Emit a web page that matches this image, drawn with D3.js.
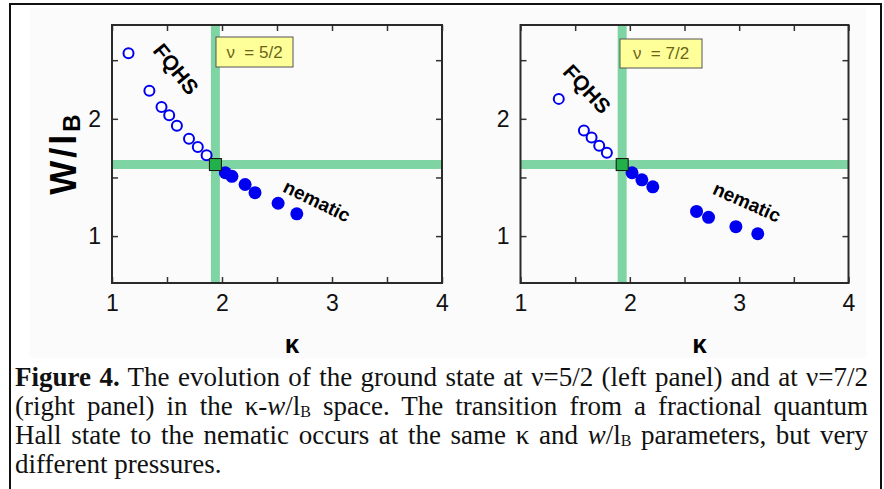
<!DOCTYPE html>
<html>
<head>
<meta charset="utf-8">
<script src="https://cdn.jsdelivr.net/npm/d3@7"></script>
<style>
  body { margin: 0; background: #fff; }
  svg { display: block; }
</style>
</head>
<body>
<div id="fig"></div>
<script>
// kappa and w/lB
const k52Open = [1.15, 1.34, 1.45, 1.52, 1.59, 1.70, 1.78, 1.86];
const w52Open = [2.56, 2.24, 2.10, 2.03, 1.94, 1.83, 1.76, 1.69];
const k52Fill = [2.03, 2.09, 2.21, 2.30, 2.51, 2.68];
const w52Fill = [1.54, 1.51, 1.44, 1.37, 1.28, 1.19];

const k72Open = [1.35, 1.58, 1.65, 1.72, 1.79];
const w72Open = [2.17, 1.90, 1.84, 1.77, 1.71];
const k72Fill = [2.02, 2.11, 2.21, 2.61, 2.72, 2.97, 3.17];
const w72Fill = [1.54, 1.48, 1.42, 1.21, 1.16, 1.08, 1.02];

// transition point (green cross + square)
const kCross = [1.94, 1.93];
const wCross = [1.61, 1.61];
const panelTags = ["ν  = 5/2", "ν  = 7/2"];

const xTicks = [1, 1.5, 2, 2.5, 3, 3.5, 4];
const xLabels = [1, 2, 3, 4];
const yTicks = [1, 1.5, 2, 2.5];
const yLabels = [1, 2];
const xDomain = [1, 4];
const yDomain = [0.6, 2.8];

const width = 884, height = 489;
const svg = d3.select("#fig").append("svg").attr("width", width).attr("height", height);

svg.append("rect").attr("x", 30).attr("y", 8).attr("width", 836).attr("height", 350).attr("fill", "#fbfbfb");
svg.append("rect").attr("x", 10).attr("y", 4).attr("width", 871).attr("height", 520)
  .attr("fill", "none").attr("stroke", "#111").attr("stroke-width", 2);

const panels = [
  { x0: 112, x1: 442, open: [k52Open, w52Open], fill: [k52Fill, w52Fill],
    fqhs: [176, 69, 51], nem: [317, 201, 26], tag: [216, 37, 77, 30] },
  { x0: 520.5, x1: 848.5, open: [k72Open, w72Open], fill: [k72Fill, w72Fill],
    fqhs: [587, 89, 47], nem: [747, 202, 24], tag: [620, 39, 82, 29] }
];
const plotTop = 25, plotBottom = 283;
const green = "#7fd4a3";

panels.forEach(function(p, i) {
  const x = d3.scaleLinear().domain(xDomain).range([p.x0, p.x1]);
  const y = d3.scaleLinear().domain(yDomain).range([plotBottom, plotTop]);
  const g = svg.append("g");

  // ticks (inward) and labels
  const fmtX = d => xLabels.includes(d) ? d : "";
  const fmtY = d => yLabels.includes(d) ? d : "";
  g.append("g").attr("transform", `translate(0,${plotBottom})`)
    .call(d3.axisBottom(x).tickValues(xTicks).tickSize(-6).tickPadding(12).tickFormat(fmtX));
  g.append("g").attr("transform", `translate(0,${plotTop})`)
    .call(d3.axisTop(x).tickValues(xTicks).tickSize(-6).tickFormat(""));
  g.append("g").attr("transform", `translate(${p.x0},0)`)
    .call(d3.axisLeft(y).tickValues(yTicks).tickSize(-6).tickPadding(11).tickFormat(fmtY));
  g.append("g").attr("transform", `translate(${p.x1},0)`)
    .call(d3.axisRight(y).tickValues(yTicks).tickSize(-6).tickFormat(""));
  g.selectAll(".domain").remove();
  g.selectAll(".tick line").attr("stroke", "#333").attr("stroke-width", 1.5);
  g.selectAll(".tick text").attr("font-family", "Liberation Sans, Arial, sans-serif")
    .attr("font-size", 23).attr("fill", "#111");

  // green transition lines
  g.append("line").attr("x1", x(kCross[i])).attr("x2", x(kCross[i]))
    .attr("y1", plotTop).attr("y2", plotBottom).attr("stroke", green).attr("stroke-width", 9);
  g.append("line").attr("x1", p.x0).attr("x2", p.x1)
    .attr("y1", y(wCross[i])).attr("y2", y(wCross[i])).attr("stroke", green).attr("stroke-width", 9);

  g.append("rect").attr("x", p.x0).attr("y", plotTop).attr("width", p.x1 - p.x0).attr("height", plotBottom - plotTop)
    .attr("fill", "none").attr("stroke", "#2a2a2a").attr("stroke-width", 2);

  // points
  g.selectAll(".open").data(p.open[0]).join("circle")
    .attr("cx", d => x(d)).attr("cy", (d, j) => y(p.open[1][j])).attr("r", 5)
    .attr("fill", "#fff").attr("stroke", "#0000f0").attr("stroke-width", 2);
  g.selectAll(".fill").data(p.fill[0]).join("circle")
    .attr("cx", d => x(d)).attr("cy", (d, j) => y(p.fill[1][j])).attr("r", 6.5)
    .attr("fill", "#0000f0");

  g.append("rect").attr("x", x(kCross[i]) - 6).attr("y", y(wCross[i]) - 6)
    .attr("width", 12).attr("height", 12).attr("fill", "#22b04a").attr("stroke", "#111").attr("stroke-width", 1);

  // labels
  g.append("text").attr("transform", `translate(${p.fqhs[0]},${p.fqhs[1]}) rotate(${p.fqhs[2]})`)
    .attr("text-anchor", "middle").attr("dy", "0.35em")
    .attr("font-family", "Liberation Sans, Arial, sans-serif").attr("font-size", 21).attr("font-weight", "bold")
    .text("FQHS");
  g.append("text").attr("transform", `translate(${p.nem[0]},${p.nem[1]}) rotate(${p.nem[2]})`)
    .attr("text-anchor", "middle").attr("dy", "0.35em")
    .attr("font-family", "Liberation Sans, Arial, sans-serif").attr("font-size", 19).attr("font-weight", "bold")
    .text("nematic");

  g.append("rect").attr("x", p.tag[0]).attr("y", p.tag[1]).attr("width", p.tag[2]).attr("height", p.tag[3])
    .attr("fill", "#ffff99").attr("stroke", "#555").attr("stroke-width", 1);
  g.append("text").attr("x", p.tag[0] + p.tag[2] / 2).attr("y", p.tag[1] + p.tag[3] / 2)
    .attr("text-anchor", "middle").attr("dy", "0.35em")
    .attr("font-family", "Liberation Sans, Arial, sans-serif").attr("font-size", 17).attr("fill", "#6b6415")
    .style("white-space", "pre").text(panelTags[i]);

  g.append("text").attr("x", (p.x0 + p.x1) / 2 + 15).attr("y", 353)
    .attr("text-anchor", "middle").attr("font-family", "Liberation Sans, Arial, sans-serif")
    .attr("font-size", 26).attr("font-weight", "bold").text("κ");
});

// y axis title
const yt = svg.append("text").attr("transform", "translate(76,153) rotate(-90)")
  .attr("text-anchor", "middle").attr("font-family", "Liberation Sans, Arial, sans-serif")
  .attr("font-size", 36).attr("font-weight", "bold").attr("letter-spacing", 3);
yt.append("tspan").text("W/l");
yt.append("tspan").attr("font-size", 24).attr("dy", 4).text("B");

// caption
const capLines = [
  [["Figure 4.", "b"], [" The evolution of the ground state at ν=5/2 (left panel) and at ν=7/2", ""]],
  [["(right panel) in the κ-", ""], ["w", "i"], ["/l", ""], ["B", "s"], [" space. The transition from a fractional quantum", ""]],
  [["Hall state to the nematic occurs at the same κ and ", ""], ["w", "i"], ["/l", ""], ["B", "s"], [" parameters, but very", ""]],
  [["different pressures.", ""]]
];
const capX0 = 15, capX1 = 868;
capLines.forEach(function(line, li) {
  const t = svg.append("text").attr("x", capX0).attr("y", 386 + li * 29)
    .attr("font-family", "Liberation Serif, 'Times New Roman', serif").attr("font-size", 27)
    .style("white-space", "pre").attr("fill", "#111");
  let sub = false;
  line.forEach(function(seg) {
    const s = t.append("tspan").text(seg[0]);
    if (seg[1] === "b") s.attr("font-weight", "bold");
    if (seg[1] === "i") s.attr("font-style", "italic");
    if (seg[1] === "s") { s.attr("font-size", 16).attr("dy", 1.5); sub = true; }
    else if (sub) { s.attr("dy", -1.5); sub = false; }
  });
  if (li < capLines.length - 1) {
    const natural = t.node().getComputedTextLength();
    const spaces = line.map(s => s[0]).join("").split(" ").length - 1;
    t.attr("word-spacing", Math.max(0, (capX1 - capX0 - natural) / spaces));
  }
});
</script>
</body>
</html>
